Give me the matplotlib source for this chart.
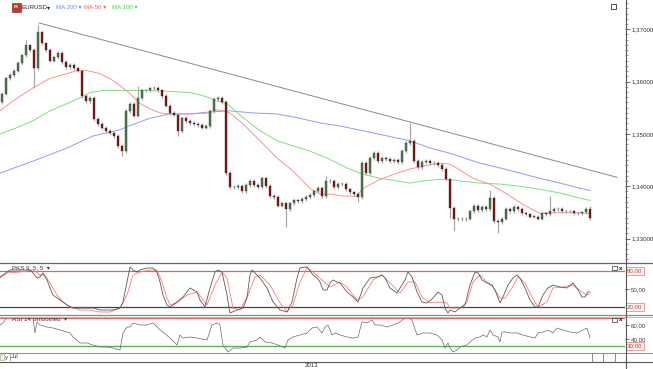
import matplotlib
matplotlib.use('Agg')
import matplotlib.pyplot as plt
from matplotlib.lines import Line2D
from matplotlib.patches import Rectangle
from matplotlib.ticker import MultipleLocator

# ---------------- data ----------------
first_open = 1.3560
closes = [
    1.3577, 1.3606, 1.3612, 1.3621, 1.3635, 1.3650, 1.3669, 1.3660, 1.3625, 1.3694,
    1.3673, 1.3660, 1.3640, 1.3646, 1.3654, 1.3637, 1.3627, 1.3631, 1.3625, 1.3621,
    1.3573, 1.3563, 1.3569, 1.3529, 1.3519, 1.3512, 1.3506, 1.3502, 1.3496, 1.3477,
    1.3467, 1.3544, 1.3558, 1.3535, 1.3569, 1.3583, 1.3583, 1.3587, 1.3588, 1.3583,
    1.3573, 1.3554, 1.3540, 1.3537, 1.3506, 1.3531, 1.3525, 1.3521, 1.3519, 1.3517,
    1.3512, 1.3515, 1.3544, 1.3567, 1.3569, 1.3560, 1.3425, 1.3398, 1.3398, 1.3400,
    1.3390, 1.3402, 1.3410, 1.3402, 1.3398, 1.3415, 1.3400, 1.3381, 1.3379, 1.3363,
    1.3367, 1.3356, 1.3367, 1.3373, 1.3371, 1.3375, 1.3379, 1.3383, 1.3390, 1.3396,
    1.3381, 1.3410, 1.3410, 1.3398, 1.3404, 1.3404, 1.3394, 1.3388, 1.3385, 1.3379,
    1.3444, 1.3425, 1.3454, 1.3463, 1.3448, 1.3454, 1.3452, 1.3448, 1.3450, 1.3446,
    1.3467, 1.3483, 1.3487, 1.3448, 1.3437, 1.3446, 1.3448, 1.3444, 1.3444, 1.3440,
    1.3433, 1.3413, 1.3358, 1.3337, 1.3338, 1.3337, 1.3338, 1.3352, 1.3362, 1.3354,
    1.3360, 1.3356, 1.3377, 1.3333, 1.3331, 1.3338, 1.3356, 1.3352, 1.3360, 1.3356,
    1.3348, 1.3346, 1.3342, 1.3342, 1.3338, 1.3348, 1.3346, 1.3352, 1.3356, 1.3356,
    1.3352, 1.3352, 1.3352, 1.3348, 1.3348, 1.3350, 1.3356, 1.3340,
]
wick = 0.00035
spike_highs = {6: 1.3680, 9: 1.3708, 34: 1.3592, 56: 1.3565, 81: 1.3420,
               102: 1.3521, 122: 1.3392, 137: 1.3381, 147: 1.3362}
spike_lows = {8: 1.3588, 30: 1.3458, 44: 1.3495, 71: 1.3323, 89: 1.3370,
              112: 1.3340, 113: 1.3315, 124: 1.3310, 147: 1.3335}

ma50_x = [-0.5, 2.75, 7.75, 12, 16.25, 18.75, 21.25, 24.5, 27.75, 29.5, 32, 34.5, 37, 39.5,
          42, 47, 52, 53.75, 55.25, 57, 60.25, 64.5, 68.75, 72.75, 77, 79.5, 82, 85.25,
          88.75, 90.25, 94.5, 98.75, 102, 105.25, 107.75, 110.25, 112, 114.5, 117.75, 122,
          126.25, 130.25, 134.5, 139.5, 147]
ma50_v = [1.3544, 1.3563, 1.3588, 1.3606, 1.3615, 1.3621, 1.3621, 1.3615, 1.3602, 1.3592,
          1.3577, 1.3558, 1.3548, 1.3540, 1.3538, 1.3538, 1.3540, 1.3546, 1.3544, 1.3540,
          1.3519, 1.3487, 1.3454, 1.3429, 1.3396, 1.3385, 1.3385, 1.3381, 1.3381, 1.3396,
          1.3413, 1.3425, 1.3433, 1.3438, 1.3442, 1.3444, 1.3442, 1.3431, 1.3415, 1.3404,
          1.3385, 1.3365, 1.3348, 1.3350, 1.3348]
ma100_x = [-0.5, 3.75, 7.75, 12, 16.25, 19.5, 22, 25.25, 29.5, 37, 42, 47, 50.25, 53.75,
           56.25, 60.25, 64.5, 68.75, 72.75, 77, 81.25, 86.25, 90.25, 94.5, 98.75, 102,
           105.25, 108.75, 112, 114.5, 119.5, 124.5, 129.5, 134.5, 139.5, 144.5, 147]
ma100_v = [1.3500, 1.3512, 1.3525, 1.3544, 1.3558, 1.3569, 1.3579, 1.3583, 1.3583, 1.3583,
           1.3581, 1.3579, 1.3573, 1.3563, 1.3558, 1.3531, 1.3506, 1.3487, 1.3477, 1.3467,
           1.3454, 1.3435, 1.3423, 1.3415, 1.3410, 1.3406, 1.3410, 1.3413, 1.3413, 1.3410,
           1.3406, 1.3404, 1.3400, 1.3394, 1.3387, 1.3377, 1.3373]
ma200_x = [-0.5, 7.75, 16.25, 22.75, 26.25, 29.5, 32, 37, 42, 47, 52, 57, 62.75, 68.75,
           73.75, 79.5, 84.5, 90.25, 98.75, 102, 107, 112, 119.5, 124.5, 129.5, 134.5,
           139.5, 144.5, 147]
ma200_v = [1.3425, 1.3448, 1.3473, 1.3496, 1.3502, 1.3508, 1.3516, 1.3530, 1.3538, 1.3538,
           1.3542, 1.3544, 1.3540, 1.3538, 1.3531, 1.3521, 1.3515, 1.3506, 1.3492, 1.3487,
           1.3473, 1.3463, 1.3444, 1.3435, 1.3425, 1.3415, 1.3406, 1.3396, 1.3392]
trend_x = [9.25, 153.75]
trend_v = [1.3712, 1.3417]

stoch_k_x = [-0.5, 0.25, 2, 4.5, 7, 7.75, 8.75, 9.5, 10.25, 11.25, 12, 12.75, 14.5, 16.25,
             17.75, 19.5, 21.25, 22.75, 24.5, 26.25, 27.75, 29.5, 30.25, 31.25, 32, 32.75,
             33.75, 34.5, 36.25, 37.75, 38.75, 39.5, 40.25, 41.25, 42, 43.75, 45.25, 47,
             48.75, 49.5, 50.75, 52, 53.25, 54, 55, 56.25, 57, 58.75, 60.25, 61.25, 62,
             62.5, 63.25, 64.5, 66.25, 67.75, 69.5, 71.25, 72.5, 73.75, 74.5, 76.25, 77.75,
             78.75, 79.5, 80.25, 81.25, 82, 82.75, 83.75, 84.5, 86.25, 87.75, 89, 90.25, 92,
             93.75, 95, 95.75, 97, 98.75, 99.5, 100.75, 101.5, 102.5, 103.75, 105, 106.25,
             107.75, 109, 110, 110.75, 111.5, 112, 113.25, 114.5, 115.75, 117, 118.25, 119,
             120, 121.25, 122.5, 123.25, 124.5, 125.25, 126.5, 127.75, 128.75, 129.5, 130.75,
             132, 133.25, 134, 135.25, 136.5, 137.75, 139.5, 141.25, 142.75, 144, 145,
             145.75, 146.5, 147]
stoch_k = [70, 73.3, 81.7, 81.7, 81.7, 76.7, 68.3, 70, 76.7, 65, 51.7, 40, 31.7, 23.3,
           18.3, 18.3, 18.3, 18.3, 15, 15, 15, 18.3, 28.3, 61.7, 86.7, 81.7,
           78.3, 81.7, 85, 85, 78.3, 61.7, 40, 23.3, 20, 28.3, 36.7, 51.7,
           45, 31.7, 20, 51.7, 78.3, 81.7, 78.3, 40, 10, 15, 18.3, 35, 73.3,
           81.7, 76.7, 68.3, 51.7, 28.3, 15, 11.7, 28.3, 68.3, 85, 86.7, 73.3,
           68.3, 61.7, 48.3, 48.3, 60, 65, 61.7, 60, 45, 36.7, 28.3, 51.7, 68.3,
           70, 73.3, 68.3, 51.7, 43.3, 51.7, 65, 78.3, 70, 45, 28.3, 26.7,
           35, 45, 40, 18.3, 10, 15, 11.7, 18.3, 23.3, 56.7, 78.3, 76.7,
           65, 60, 56.7, 48.3, 26.7, 36.7, 56.7, 68.3, 73.3, 68.3, 51.7,
           31.7, 20, 20, 40, 51.7, 56.7, 53.3, 51.7, 60, 48.3, 36.7,
           36.7, 45, 45]
stoch_d_x = [-0.5, 1.25, 4.5, 7.75, 9.5, 10.75, 12, 13.75, 15.25, 17, 19.5, 22, 24.5, 27,
             29.5, 31.25, 32.75, 34.5, 37, 38.75, 40, 41.25, 42, 43.75, 46.25, 48.75, 51.25,
             53.25, 55, 56.25, 57.75, 59.5, 61.5, 63.25, 64.5, 67, 69.5, 71.25, 72.75, 74.5,
             76.25, 77.75, 79.5, 82, 84.5, 86.25, 88.75, 90.25, 92.75, 95, 97, 99.5, 101.5,
             103.25, 105, 107, 108.75, 111.25, 112, 114.5, 116.25, 117.75, 119.5, 121.25,
             122.75, 124.5, 125.75, 127.5, 129, 130.75, 132.5, 134, 136.25, 137.75, 140.25,
             142.75, 145, 146.25, 147]
stoch_d = [68.3, 76.7, 78.3, 81.7, 73.3, 73.3, 60, 40, 28.3, 20, 15, 15, 11.7, 11.7,
           18.3, 40, 73.3, 78.3, 81.7, 81.7, 61.7, 35, 23.3, 26.7, 40, 45, 23.3,
           56.7, 78.3, 68.3, 18.3, 15, 40, 70, 73.3, 56.7, 26.7, 11.7, 23.3, 61.7,
           85, 78.3, 68.3, 53.3, 61.7, 53.3, 31.7, 36.7, 65, 73.3, 60, 43.3, 61.7,
           61.7, 36.7, 26.7, 28.3, 26.7, 18.3, 18.3, 28.3, 61.7, 73.3, 61.7,
           53.3, 35, 35, 51.7, 70, 60, 36.7, 20, 28.3, 51.7, 53.3,
           56.7, 45, 40, 41.7]

rsi_x = [-0.5, 0.25, 1.25, 2, 3.75, 4.5, 7.75, 8.25, 8.75, 9.5, 11.25, 12.75, 14.5, 16.25,
         17, 17.75, 19.5, 21.25, 22.75, 24.5, 26.25, 27.75, 29.5, 30.25, 31.25, 32, 32.75,
         34.5, 36.25, 37.75, 38.75, 39.5, 40.25, 42, 43.75, 44.5, 45.25, 47, 48.75, 51.25,
         52.5, 53.75, 54.5, 55.25, 56.5, 57.75, 59.5, 61.25, 62, 63.75, 64.5, 65.75, 67.5,
         69, 70.75, 71.5, 72.75, 74.5, 76.25, 77.5, 78.75, 80, 80.75, 81.5, 82.5, 83.25,
         84.5, 86.25, 87.75, 89, 90, 91.25, 92.5, 93.25, 94.5, 96.25, 97.75, 99.5, 100.75,
         101.5, 102.5, 103.75, 105.25, 107, 108.75, 110, 110.75, 111.5, 112, 112.75,
         113.75, 114.5, 116.25, 117, 118.25, 119.5, 120.25, 121.25, 122, 122.75, 124,
         124.5, 125, 125.75, 127, 128.75, 130.25, 132, 133.25, 134, 135.25, 136.5, 137.75,
         138.75, 140.25, 142, 143.75, 145.25, 146.25, 147]
rsi = [60, 62.9, 71.4, 74.3, 71.4, 70, 70, 48.6, 64.3, 60, 57.1, 55.7, 52.9, 50,
       48.6, 42.9, 34.3, 34.3, 31.4, 28.6, 28.6, 27.1, 24.3, 48.6, 57.1, 57.1, 62.9,
       60, 60, 62.9, 57.1, 52.9, 50, 41.4, 31.4, 45.7, 41.4, 42.9, 41.4, 38.6,
       60, 62.9, 60, 31.4, 21.4, 27.1, 27.1, 28.6, 35.7, 38.6, 42.9, 35.7, 34.3,
       31.4, 27.1, 38.6, 42.9, 45.7, 48.6, 55.7, 57.1, 48.6, 57.1, 60, 45.7, 48.6,
       45.7, 42.9, 41.4, 42.9, 64.3, 62.9, 67.1, 60, 60, 57.1, 60, 64.3, 70,
       71.4, 67.1, 45.7, 48.6, 48.6, 45.7, 38.6, 27.1, 34.3, 27.1, 21.4,
       24.3, 28.6, 31.4, 35.7, 41.4, 42.9, 45.7, 42.9, 52.9, 45.7, 42.9,
       35.7, 50, 50, 48.6, 48.6, 45.7, 42.9, 41.4, 48.6, 50, 52.9, 48.6,
       55.7, 52.9, 50, 48.6, 52.9, 55.7, 41.4]

price_ticks = [1.33, 1.34, 1.35, 1.36, 1.37]
price_labels = ['1,33000', '1,34000', '1,35000', '1,36000', '1,37000']
header_items = [('MA 200 \u25be', '#6f86ff'), ('MA 50 \u25be', '#ff5a5a'), ('MA 100 \u25be', '#46d846')]

# ---------------- layout ----------------
plt.rcParams['font.family'] = ['Liberation Sans', 'DejaVu Sans']
W, H = 653, 369
fig = plt.figure(figsize=(W / 100, H / 100), dpi=100)
fig.patch.set_facecolor('white')
FS = 4.4


def fx(x):
    return x / W


def fy(y):
    return 1 - y / H


def axes_px(x0, y0, x1, y1):
    a = fig.add_axes([fx(x0), fy(y1), (x1 - x0) / W, (y1 - y0) / H])
    for s in a.spines.values():
        s.set_visible(False)
    a.set_facecolor('none')
    a.set_xticks([])
    return a


def hline(y, x0=0, x1=W, color='#777777', lw=0.8):
    fig.add_artist(Line2D([fx(x0), fx(x1)], [fy(y), fy(y)], color=color, lw=lw))


def vline(x, y0, y1, color='#555555', lw=0.8):
    fig.add_artist(Line2D([fx(x), fx(x)], [fy(y0), fy(y1)], color=color, lw=lw))


AXR = 625
XL = (-0.5, 155.75)
ax = axes_px(0, 0, AXR, 262)
ax_st = axes_px(0, 263, AXR, 315)
ax_rs = axes_px(0, 317, AXR, 353)
for a in (ax, ax_st, ax_rs):
    a.set_xlim(*XL)

# ---------------- price panel ----------------
ax.set_ylim(1.32552, 1.37558)
n = len(closes)
idx = list(range(n))
opens = [first_open] + closes[:-1]
highs, lows, bottoms, heights, fcols = [], [], [], [], []
for i in idx:
    o, c = opens[i], closes[i]
    highs.append(spike_highs.get(i, max(o, c) + wick))
    lows.append(spike_lows.get(i, min(o, c) - wick))
    bottoms.append(min(o, c))
    heights.append(max(abs(c - o), 0.00006))
    fcols.append('#4d7d4d' if c >= o else '#8a0e0e')
ax.vlines(idx, lows, highs, color='#a8a8a8', lw=0.9, zorder=2)
ax.bar(idx, heights, bottom=bottoms, width=0.6, color=fcols, edgecolor='#2a2a2a',
       linewidth=0.25, zorder=3)

ax.plot(ma200_x, ma200_v, color='#8c9cff', lw=0.7, zorder=1)
ax.plot(ma100_x, ma100_v, color='#7ee07e', lw=0.7, zorder=1)
ax.plot(ma50_x, ma50_v, color='#ff9090', lw=0.7, zorder=1)
ax.plot(trend_x, trend_v, color='#8a8a8a', lw=0.7, zorder=1)

ax.yaxis.tick_right()
ax.set_yticks(price_ticks)
ax.set_yticklabels(price_labels)
ax.yaxis.set_minor_locator(MultipleLocator(0.001))
ax.tick_params(axis='y', which='major', length=3.5, width=0.6, color='#555555',
               labelsize=FS, labelcolor='#333333', pad=1.0)
ax.tick_params(axis='y', which='minor', length=1.8, width=0.5, color='#777777')

# header
fig.add_artist(Rectangle((fx(12), fy(12)), 9 / W, 9 / H, facecolor='#c0392b',
                         edgecolor='#7a1a10', lw=0.4))
fig.text(fx(16.5), fy(7.5), 'FX', fontsize=2.8, color='white', ha='center', va='center',
         weight='bold')
fig.text(fx(22), fy(7.5), 'EURUSD', fontsize=FS, color='#222222', va='center')
fig.text(fx(47), fy(7.5), '\u25be', fontsize=FS, color='#222222', va='center')
hx = [56, 84, 112]
for (t, col), x0 in zip(header_items, hx):
    fig.text(fx(x0), fy(7.5), t, fontsize=FS, color=col, va='center')
fig.add_artist(Rectangle((fx(611), fy(8.5)), 5 / W, 4.5 / H, facecolor='white',
                         edgecolor='#333333', lw=0.6))

# ---------------- stochastic panel ----------------
ax_st.set_ylim(6.7, 93.3)
ax_st.axhline(80, color='#e86060', lw=0.9)
ax_st.axhline(20, color='#444444', lw=0.9)
ax_st.plot(stoch_d_x, stoch_d, color='#ff7a7a', lw=0.6)
ax_st.plot(stoch_k_x, stoch_k, color='#5a5a5a', lw=0.6)
ax_st.yaxis.tick_right()
ax_st.set_yticks([50])
ax_st.set_yticklabels(['50,00'])
ax_st.tick_params(axis='y', length=3, width=0.6, color='#555555', labelsize=FS,
                  labelcolor='#444444', pad=1.0)
ax_st.text(0.02, 0.9, 'PKS 9, 5, 5  \u25be', transform=ax_st.transAxes, fontsize=FS,
           color='#333333', va='center')

# ---------------- RSI panel ----------------
ax_rs.set_ylim(20, 71.4)
ax_rs.axhline(70, color='#e86060', lw=0.9)
ax_rs.axhline(30, color='#55aa55', lw=0.9)
ax_rs.plot(rsi_x, rsi, color='#6a6a6a', lw=0.5)
ax_rs.yaxis.tick_right()
ax_rs.set_yticks([40, 60])
ax_rs.set_yticklabels(['40,00', '60,00'])
ax_rs.tick_params(axis='y', length=3, width=0.6, color='#555555', labelsize=FS,
                  labelcolor='#444444', pad=1.0)
ax_rs.text(0.02, 0.93, 'RSI 14 Smoothed  \u25be', transform=ax_rs.transAxes, fontsize=FS,
           color='#333333', va='center')


def level_box(a, val, txt):
    a.text(1.0035, val, txt, transform=a.get_yaxis_transform(), fontsize=FS,
           color='#e03a3a', va='center', ha='left', clip_on=False,
           bbox=dict(boxstyle='square,pad=0.25', facecolor='#fff4f0', edgecolor='#f08a8a',
                     lw=0.6))


level_box(ax_st, 80, '80,00')
level_box(ax_st, 20, '20,00')
level_box(ax_rs, 30, '30,00')

# panel icons (square + x)
for yy in (268, 319.5):
    fig.add_artist(Rectangle((fx(612), fy(yy + 2.2)), 4.5 / W, 4 / H, facecolor='white',
                             edgecolor='#333333', lw=0.5))
    fig.text(fx(619), fy(yy), 'x', fontsize=FS, color='#111111', va='center',
             weight='bold')

# ---------------- separators / axis lines ----------------
hline(262.5, color='#666666', lw=0.9)
hline(315.3, color='#8a8a8a', lw=0.9)
hline(316.8, color='#bbbbbb', lw=0.7)
hline(353, color='#8a8a8a', lw=0.7)
hline(361.5, color='#555555', lw=0.8)
vline(AXR + 0.5, 0, H, color='#555555', lw=0.8)
for xx in (592, 603, 614.5):
    vline(xx, 353, 361.5, color='#777777', lw=0.6)

# bottom time bar
fig.add_artist(Rectangle((fx(0), fy(360)), 3.5 / W, 6 / H, facecolor='#fff7d0',
                         edgecolor='#999999', lw=0.4))
fig.text(fx(4.5), fy(357), 'y', fontsize=FS, color='#333333', va='center')
vline(9.5, 354, 360, color='#777777', lw=0.5)
fig.text(fx(11), fy(357), 'Jul', fontsize=FS, color='#333333', va='center')
fig.text(fx(312), fy(365.5), '2013', fontsize=FS, color='#333333', va='center',
         ha='center')

fig.savefig('out.png', dpi=100, facecolor='white')
